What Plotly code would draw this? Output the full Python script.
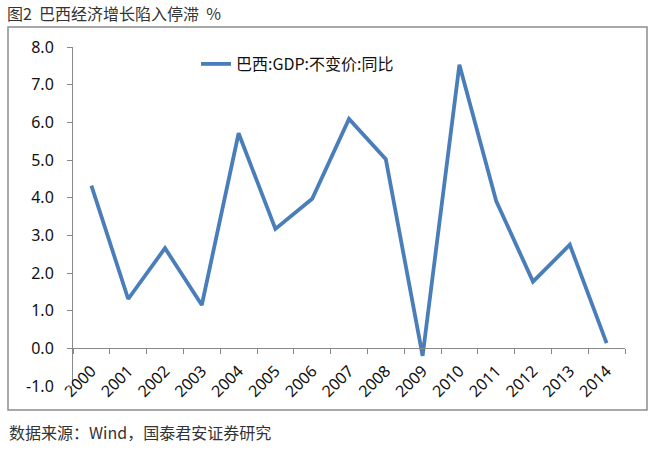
import plotly.graph_objects as go

# Data
years = [str(y) for y in range(2000, 2015)]
gdp_yoy = [4.32, 1.31, 2.66, 1.15, 5.71, 3.17, 3.97, 6.09, 5.02, -0.2,
           7.53, 3.91, 1.77, 2.75, 0.14]
series_name = "巴西:GDP:不变价:同比"
y_ticks = [-1, 0, 1, 2, 3, 4, 5, 6, 7, 8]
y_tick_text = ["-1.0", "0.0", "1.0", "2.0", "3.0", "4.0", "5.0", "6.0", "7.0", "8.0"]

W, H = 662, 450
L, R, T, B = 73, 37, 47, 64
pw, ph = W - L - R, H - T - B

def px_x(px):
    return (px - L) / pw

def px_y(py):
    return (H - B - py) / ph

font_cjk = "Noto Sans CJK SC, Noto Sans, sans-serif"
font_num = "Noto Sans, Liberation Sans, sans-serif"
axis_grey = "#888888"

fig = go.Figure()
fig.add_trace(go.Scatter(
    x=years, y=gdp_yoy, mode="lines", name=series_name,
    line=dict(color="#4A7EBB", width=3.8),
    showlegend=True,
))

ymin, ymax = -1, 8
fig.update_layout(
    width=W, height=H,
    margin=dict(l=L, r=R, t=T, b=B, autoexpand=False),
    plot_bgcolor="white", paper_bgcolor="white",
    title=dict(text="图2  巴西经济增长陷入停滞  %", x=7 / W, xanchor="left",
               y=1 - 14 / H, yanchor="middle", xref="container", yref="container",
               font=dict(family=font_cjk, size=16, color="#333333")),
    legend=dict(x=px_x(196), y=px_y(64), xanchor="left", yanchor="middle",
                bgcolor="rgba(0,0,0,0)",
                font=dict(family=font_cjk, size=16, color="#111111")),
    showlegend=True,
)
fig.update_yaxes(
    range=[ymin, ymax], tickvals=y_ticks, ticktext=y_tick_text, automargin=False,
    showgrid=False, zeroline=False, showline=True, linecolor=axis_grey, linewidth=1,
    ticks="outside", ticklen=5, tickcolor=axis_grey, ticklabelstandoff=10,
    tickfont=dict(family=font_num, size=16, color="#111111"),
)
fig.update_xaxes(
    type="category", range=[-0.5, len(years) - 0.5], automargin=False,
    anchor="free", position=(0 - ymin) / (ymax - ymin),
    showgrid=False, zeroline=False, showline=True, linecolor=axis_grey, linewidth=1,
    ticks="outside", ticklen=5, tickcolor=axis_grey, tickson="boundaries",
    tickangle=-45, ticklabelstandoff=6,
    tickfont=dict(family=font_num, size=16, color="#111111"),
)

# outer chart border
fig.add_shape(type="rect", xref="paper", yref="paper",
              x0=px_x(8), x1=px_x(647), y0=px_y(410), y1=px_y(27),
              line=dict(color="#8c8c8c", width=1.5), layer="below")

fig.add_annotation(text="数据来源：Wind，国泰君安证券研究", xref="paper", yref="paper",
                   x=px_x(7), y=px_y(432), xanchor="left", yanchor="middle",
                   showarrow=False,
                   font=dict(family=font_cjk, size=16, color="#333333"))

# page body has a default 8px margin; drop it so the figure sits at 0,0
fig.write_html("out.html", config={"displayModeBar": False},
               post_script="document.body.style.margin='0';")
